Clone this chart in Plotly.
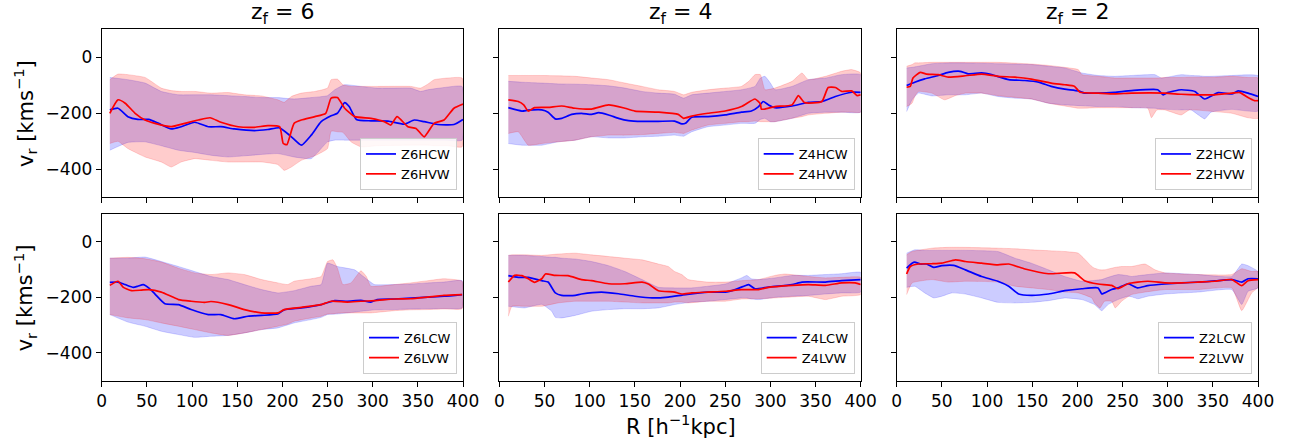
import plotly.graph_objects as go

# ---------------- data: z_f = 6, high (H) ----------------
R_Z6HCW = [9,18,29,40,52,63,77,88,103,118,132,147,169,184,197,210,221,232,243,254,261,269,274,282,298,317,335,346,357,372,390,400]
V_Z6HCW = [-189,-183,-213,-223,-223,-237,-257,-249,-233,-249,-249,-257,-263,-259,-253,-285,-315,-279,-231,-210,-201,-163,-177,-223,-228,-229,-240,-225,-231,-241,-241,-223]
R_Z6HVW = [9,18,26,37,48,59,77,92,107,120,132,151,169,184,197,201,205,213,221,236,248,254,261,269,280,298,313,320,327,339,348,357,368,379,390,400]
V_Z6HVW = [-201,-153,-165,-201,-225,-237,-249,-237,-225,-217,-233,-249,-251,-245,-249,-309,-313,-237,-225,-213,-201,-147,-145,-183,-213,-219,-231,-243,-213,-249,-255,-285,-237,-225,-183,-168]
BR_Z6HCW = [9,29,48,66,85,103,121,140,158,177,195,213,232,250,258,269,287,305,324,342,353,361,379,399]
BU_Z6HCW = [-73,-81,-93,-123,-135,-135,-135,-138,-141,-145,-145,-150,-145,-138,-117,-99,-105,-111,-111,-111,-123,-117,-109,-105]
BL_Z6HCW = [-333,-305,-303,-317,-333,-341,-351,-357,-353,-348,-345,-357,-363,-303,-297,-297,-297,-297,-297,-297,-297,-297,-297,-297]
BR_Z6HVW = [9,18,29,48,66,77,88,103,121,140,158,177,195,202,210,221,236,250,254,261,267,276,287,305,342,353,361,368,383,399]
BU_Z6HVW = [-81,-61,-63,-73,-111,-120,-123,-123,-129,-127,-135,-139,-153,-162,-141,-129,-123,-111,-81,-79,-99,-105,-105,-105,-105,-111,-97,-81,-75,-75]
BL_Z6HVW = [-309,-301,-327,-357,-375,-393,-375,-363,-369,-375,-375,-375,-384,-405,-393,-369,-353,-327,-265,-267,-269,-303,-321,-317,-315,-315,-315,-317,-317,-321]

# ---------------- data: z_f = 4, high (H) ----------------
R_Z4HCW = [10,25,32,47,54,62,69,80,91,102,110,121,132,143,158,176,194,202,206,213,231,250,268,279,287,292,298,305,324,342,357,372,390,400]
V_Z4HCW = [-181,-193,-190,-189,-197,-221,-219,-205,-201,-205,-199,-207,-219,-227,-230,-230,-229,-239,-237,-215,-213,-207,-197,-193,-177,-159,-171,-181,-175,-162,-159,-141,-126,-126]
R_Z4HVW = [10,21,27,32,39,54,69,84,102,121,139,150,176,198,204,213,231,250,268,283,289,290,294,305,324,331,338,357,364,372,379,390,396,400]
V_Z4HVW = [-153,-159,-171,-193,-181,-180,-175,-183,-186,-171,-183,-193,-197,-205,-219,-211,-201,-193,-177,-150,-168,-186,-186,-177,-171,-138,-163,-159,-109,-109,-123,-121,-138,-135]
BR_Z4HCW = [10,25,47,65,84,102,121,139,158,176,194,204,213,231,250,268,283,289,294,300,305,324,342,361,379,400]
BU_Z4HCW = [-87,-90,-93,-96,-97,-99,-103,-111,-123,-129,-133,-147,-135,-129,-123,-117,-105,-75,-69,-93,-117,-105,-81,-75,-63,-63]
BL_Z4HCW = [-309,-315,-315,-303,-297,-285,-289,-289,-285,-283,-279,-283,-267,-249,-243,-237,-237,-223,-219,-231,-231,-219,-201,-197,-197,-197]
BR_Z4HVW = [10,21,32,47,65,84,102,121,139,158,176,194,204,213,231,250,268,276,283,289,294,305,324,335,342,361,379,390,400]
BU_Z4HVW = [-66,-66,-66,-66,-67,-69,-75,-81,-93,-105,-117,-123,-135,-126,-117,-111,-105,-87,-63,-63,-117,-111,-87,-57,-81,-69,-51,-45,-57]
BL_Z4HVW = [-273,-267,-315,-309,-303,-297,-285,-279,-279,-277,-273,-269,-273,-261,-243,-237,-231,-231,-229,-231,-231,-231,-219,-213,-207,-201,-197,-197,-197]

# ---------------- data: z_f = 2, high (H) ----------------
R_Z2HCW = [11,20,31,46,57,70,79,94,105,124,142,157,171,186,201,208,223,241,260,289,295,300,315,330,341,356,371,378,389,400]
V_Z2HCW = [-102,-90,-78,-66,-55,-51,-60,-57,-63,-81,-84,-90,-105,-115,-121,-129,-129,-126,-120,-117,-135,-127,-117,-123,-150,-127,-132,-121,-129,-141]
R_Z2HVW = [11,15,18,26,33,46,57,76,94,112,131,149,171,186,197,203,223,241,260,297,315,334,352,371,380,389,396,400]
V_Z2HVW = [-108,-105,-75,-55,-61,-63,-72,-67,-61,-69,-72,-79,-93,-99,-105,-126,-129,-132,-129,-129,-133,-135,-135,-129,-127,-145,-156,-156]
BR_Z2HCW = [11,17,24,39,57,76,94,112,131,149,168,186,205,223,241,260,286,293,315,326,334,341,348,371,400]
BU_Z2HCW = [-39,-37,-33,-24,-21,-21,-22,-24,-25,-27,-33,-39,-57,-66,-69,-66,-63,-75,-63,-66,-67,-69,-69,-66,-67]
BL_Z2HCW = [-195,-153,-129,-139,-135,-135,-129,-141,-147,-150,-165,-171,-174,-177,-177,-181,-183,-186,-189,-189,-207,-221,-197,-187,-193]
BR_Z2HVW = [11,17,20,24,39,53,65,76,94,112,149,168,186,201,205,223,241,260,278,282,288,297,315,324,352,371,389,400]
BU_Z2HVW = [-33,-27,-21,-21,-19,-19,-19,-19,-19,-19,-25,-30,-37,-45,-63,-69,-75,-75,-75,-75,-75,-73,-73,-72,-72,-69,-73,-75]
BL_Z2HVW = [-177,-165,-141,-123,-129,-153,-138,-129,-129,-138,-150,-165,-175,-183,-183,-181,-181,-181,-183,-217,-189,-189,-207,-189,-195,-201,-217,-219]

# ---------------- data: z_f = 6, low (L) ----------------
R_Z6LCW = [9,18,26,35,40,46,52,59,70,85,99,118,132,147,162,177,195,202,221,243,258,272,287,298,305,324,361,379,399]
V_Z6LCW = [-146,-145,-154,-164,-160,-154,-166,-188,-223,-226,-244,-262,-262,-277,-268,-265,-260,-245,-238,-226,-212,-214,-211,-217,-208,-206,-199,-196,-190]
R_Z6LVW = [9,18,24,33,44,52,66,85,99,114,121,140,158,177,195,202,221,243,254,272,287,302,324,342,361,379,399]
V_Z6LVW = [-157,-142,-164,-176,-174,-172,-181,-208,-214,-218,-215,-226,-244,-256,-256,-244,-236,-226,-214,-217,-214,-212,-206,-205,-199,-193,-190]
BR_Z6LCW = [9,29,48,66,85,103,121,140,158,177,195,213,232,243,250,261,280,287,294,302,324,342,361,379,399]
BU_Z6LCW = [-59,-59,-55,-71,-89,-107,-125,-136,-154,-172,-184,-176,-160,-154,-77,-89,-101,-118,-136,-154,-154,-152,-148,-145,-140]
BL_Z6LCW = [-262,-289,-304,-322,-334,-344,-340,-337,-328,-316,-310,-292,-280,-272,-262,-260,-253,-250,-248,-245,-244,-242,-241,-240,-238]
BR_Z6LVW = [9,29,48,66,85,103,121,140,158,177,195,206,213,232,243,250,256,261,267,276,287,293,298,324,342,361,379,399]
BU_Z6LVW = [-59,-56,-61,-73,-95,-112,-118,-112,-118,-136,-148,-154,-142,-133,-125,-71,-65,-95,-154,-148,-104,-125,-160,-154,-148,-140,-133,-142]
BL_Z6LVW = [-262,-274,-280,-292,-304,-316,-328,-337,-328,-316,-304,-296,-286,-274,-268,-260,-259,-257,-256,-256,-256,-256,-256,-248,-245,-244,-242,-241]

# ---------------- data: z_f = 4, low (L) ----------------
R_Z4LCW = [10,21,32,47,54,62,69,84,91,113,132,150,169,187,206,231,250,261,272,276,283,298,324,335,361,379,400]
V_Z4LCW = [-122,-128,-128,-140,-145,-184,-193,-193,-188,-181,-187,-196,-202,-199,-190,-181,-181,-172,-158,-154,-169,-163,-154,-145,-145,-140,-136]
R_Z4LVW = [10,17,25,32,39,47,51,62,76,91,102,121,139,158,165,176,194,202,213,231,250,268,287,298,324,342,361,379,394,400]
V_Z4LVW = [-145,-121,-122,-133,-146,-133,-116,-121,-122,-136,-140,-151,-151,-145,-152,-176,-181,-188,-184,-181,-178,-172,-172,-164,-157,-154,-157,-148,-148,-154]
BR_Z4LCW = [10,28,47,58,62,69,84,102,121,139,158,176,194,213,231,250,268,274,279,287,305,324,342,361,379,400]
BU_Z4LCW = [-49,-49,-53,-56,-56,-59,-62,-71,-86,-107,-136,-164,-166,-166,-160,-152,-130,-121,-133,-136,-130,-121,-121,-118,-115,-110]
BL_Z4LCW = [-232,-238,-225,-250,-272,-274,-265,-250,-244,-241,-241,-238,-226,-217,-214,-208,-202,-202,-206,-208,-200,-196,-193,-188,-184,-181]
BR_Z4LVW = [10,14,28,47,65,84,102,121,139,158,176,187,194,202,209,231,250,268,287,305,316,342,361,379,400]
BU_Z4LVW = [-49,-47,-47,-49,-44,-41,-47,-53,-59,-65,-80,-89,-107,-118,-136,-145,-145,-140,-136,-121,-116,-125,-130,-128,-128]
BL_Z4LVW = [-268,-232,-232,-232,-220,-214,-214,-214,-217,-220,-220,-220,-217,-217,-220,-214,-214,-206,-205,-202,-200,-196,-208,-196,-190]

# ---------------- data: z_f = 2, low (L) ----------------
R_Z2LCW = [11,17,20,26,33,41,50,63,76,94,112,124,135,149,168,186,205,223,227,230,238,245,256,267,278,297,315,334,352,371,382,389,400]
V_Z2LCW = [-95,-77,-73,-80,-80,-92,-86,-85,-101,-125,-142,-160,-188,-193,-188,-176,-169,-166,-188,-184,-172,-166,-151,-166,-158,-152,-148,-145,-141,-136,-145,-133,-133]
R_Z2LVW = [11,15,24,39,50,65,76,94,112,124,142,168,197,208,223,238,245,256,278,297,315,334,352,371,382,389,400]
V_Z2LVW = [-116,-89,-80,-79,-77,-65,-71,-77,-83,-80,-98,-115,-112,-140,-152,-157,-169,-151,-142,-148,-148,-145,-142,-136,-158,-140,-136]
BR_Z2LCW = [11,20,31,41,50,61,76,94,112,131,149,168,186,205,219,227,234,245,256,260,267,278,297,334,371,382,389,400]
BU_Z2LCW = [-41,-29,-31,-31,-31,-31,-31,-32,-35,-59,-77,-101,-125,-142,-139,-136,-128,-118,-122,-125,-122,-118,-112,-118,-125,-80,-86,-107]
BL_Z2LCW = [-164,-160,-184,-202,-196,-184,-188,-202,-218,-220,-218,-212,-202,-208,-226,-248,-226,-208,-196,-198,-205,-196,-188,-181,-172,-226,-178,-166]
BR_Z2LVW = [11,17,39,57,76,112,131,149,168,186,201,216,219,225,230,238,242,249,260,275,286,297,334,371,382,393,400]
BU_Z2LVW = [-47,-35,-23,-20,-20,-23,-25,-29,-32,-35,-41,-89,-95,-101,-101,-95,-92,-89,-89,-80,-101,-112,-118,-118,-97,-107,-107]
BL_Z2LVW = [-190,-148,-136,-145,-142,-145,-160,-166,-172,-181,-184,-202,-220,-238,-214,-214,-238,-214,-190,-181,-176,-172,-172,-166,-248,-184,-164]

TITLES = ["z<sub>f</sub> = 6", "z<sub>f</sub> = 4", "z<sub>f</sub> = 2"]
X_TICKS = [0, 50, 100, 150, 200, 250, 300, 350, 400]
Y_TICKS = [0, -200, -400]

# series per panel: (name, R, V, band R, band upper, band lower)
PANELS = [
    [("Z6HCW", R_Z6HCW, V_Z6HCW, BR_Z6HCW, BU_Z6HCW, BL_Z6HCW),
     ("Z6HVW", R_Z6HVW, V_Z6HVW, BR_Z6HVW, BU_Z6HVW, BL_Z6HVW)],
    [("Z4HCW", R_Z4HCW, V_Z4HCW, BR_Z4HCW, BU_Z4HCW, BL_Z4HCW),
     ("Z4HVW", R_Z4HVW, V_Z4HVW, BR_Z4HVW, BU_Z4HVW, BL_Z4HVW)],
    [("Z2HCW", R_Z2HCW, V_Z2HCW, BR_Z2HCW, BU_Z2HCW, BL_Z2HCW),
     ("Z2HVW", R_Z2HVW, V_Z2HVW, BR_Z2HVW, BU_Z2HVW, BL_Z2HVW)],
    [("Z6LCW", R_Z6LCW, V_Z6LCW, BR_Z6LCW, BU_Z6LCW, BL_Z6LCW),
     ("Z6LVW", R_Z6LVW, V_Z6LVW, BR_Z6LVW, BU_Z6LVW, BL_Z6LVW)],
    [("Z4LCW", R_Z4LCW, V_Z4LCW, BR_Z4LCW, BU_Z4LCW, BL_Z4LCW),
     ("Z4LVW", R_Z4LVW, V_Z4LVW, BR_Z4LVW, BU_Z4LVW, BL_Z4LVW)],
    [("Z2LCW", R_Z2LCW, V_Z2LCW, BR_Z2LCW, BU_Z2LCW, BL_Z2LCW),
     ("Z2LVW", R_Z2LVW, V_Z2LVW, BR_Z2LVW, BU_Z2LVW, BL_Z2LVW)],
]

W, H = 1289, 445
LINE_COLORS = ["#0000ff", "#ff0000"]
FILL_COLORS = ["rgba(0,0,255,0.2)", "rgba(255,0,0,0.2)"]
FONT = "DejaVu Sans, Verdana, sans-serif"

# layout geometry in window pixels
COL_X = [(101.7, 463.0), (499.3, 860.7), (896.7, 1258.0)]
ROW_Y = [(29.0, 197.0), (214.0, 380.7)]


def px(x):
    return x / W


def py(y):
    return 1 - y / H


fig = go.Figure()
layout = dict(
    width=W, height=H, margin=dict(l=0, r=0, t=0, b=0, pad=0),
    paper_bgcolor="white", plot_bgcolor="white",
    font=dict(family=FONT, color="black", size=17),
    annotations=[],
)

for i, series in enumerate(PANELS):
    row, col = divmod(i, 3)
    sfx = "" if i == 0 else str(i + 1)
    xa, ya = "x" + sfx, "y" + sfx
    leg = "legend" + sfx
    x0, x1 = COL_X[col]
    y0, y1 = ROW_Y[row]
    for k, (name, r, v, br, bu, bl) in enumerate(series):
        fig.add_trace(go.Scatter(
            x=list(br) + list(br)[::-1], y=list(bu) + list(bl)[::-1],
            fill="toself", fillcolor=FILL_COLORS[k], mode="lines",
            line=dict(color=FILL_COLORS[k], width=0.8, shape="spline", smoothing=0.4),
            xaxis=xa, yaxis=ya, showlegend=False, hoverinfo="skip"))
    for k, (name, r, v, br, bu, bl) in enumerate(series):
        fig.add_trace(go.Scatter(
            x=r, y=v, mode="lines", name=name,
            line=dict(color=LINE_COLORS[k], width=1.7, shape="spline", smoothing=0.5),
            xaxis=xa, yaxis=ya, legend=leg, showlegend=True))
    axis_common = dict(showline=True, linecolor="black", linewidth=1, mirror=True,
                       ticks="outside", ticklen=5, tickwidth=1, tickcolor="black",
                       showgrid=False, zeroline=False, automargin=False,
                       tickfont=dict(family=FONT, size=17, color="black"))
    layout["xaxis" + sfx] = dict(
        domain=[px(x0), px(x1)], anchor=ya, range=[0, 400],
        tickvals=X_TICKS, showticklabels=(row == 1), **axis_common)
    layout["yaxis" + sfx] = dict(
        domain=[py(y1), py(y0)], anchor=xa, range=[-500, 100],
        tickvals=Y_TICKS, showticklabels=(col == 0), **axis_common)
    layout[leg] = dict(
        x=px(x1 - 6), y=py(y1 - 7), xanchor="right", yanchor="bottom",
        bgcolor="rgba(255,255,255,0.85)", bordercolor="#cccccc", borderwidth=1,
        font=dict(family=FONT, size=13, color="black"),
        tracegroupgap=0, itemwidth=30)
    if row == 0:
        layout["annotations"].append(dict(
            text=TITLES[col], x=px((x0 + x1) / 2), y=py(14),
            xref="paper", yref="paper", xanchor="center", yanchor="middle",
            showarrow=False, font=dict(family=FONT, size=22, color="black")))
    if col == 0:
        layout["annotations"].append(dict(
            text="v<sub>r</sub> [kms<sup>−1</sup>]", x=px(25), y=py((y0 + y1) / 2),
            xref="paper", yref="paper", xanchor="center", yanchor="middle",
            showarrow=False, textangle=-90,
            font=dict(family=FONT, size=21, color="black")))

layout["annotations"].append(dict(
    text="R [h<sup>−1</sup>kpc]", x=px(681), y=py(425),
    xref="paper", yref="paper", xanchor="center", yanchor="middle",
    showarrow=False, font=dict(family=FONT, size=21, color="black")))

fig.update_layout(**layout)
# remove the default page margin so the figure starts at the window corner
fig.write_html("out.html", config={"displayModeBar": False},
               post_script="document.body.style.margin='0px';")
